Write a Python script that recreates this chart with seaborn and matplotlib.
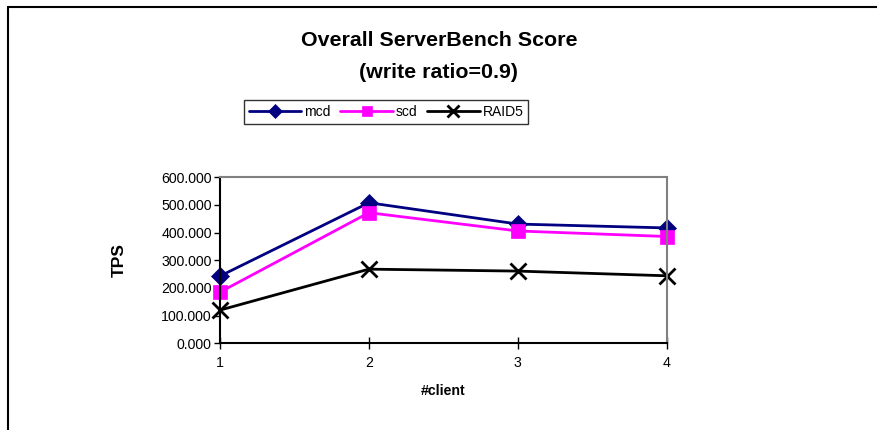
import matplotlib
matplotlib.use("Agg")
import matplotlib.pyplot as plt
import seaborn as sns
import pandas as pd
from matplotlib.lines import Line2D
from matplotlib.ticker import FuncFormatter

sns.set_theme(style="white")
plt.rcParams['font.family'] = ['Liberation Sans', 'DejaVu Sans']
plt.rcParams['text.color'] = 'black'
plt.rcParams['axes.labelcolor'] = 'black'
plt.rcParams['xtick.color'] = 'black'
plt.rcParams['ytick.color'] = 'black'

clients = [1, 2, 3, 4]
mcd = [243, 508, 431, 417]
scd = [185, 472, 406, 386]
raid5 = [120, 268, 261, 244]
series_names = ["mcd", "scd", "RAID5"]
y_ticks = [0, 100, 200, 300, 400, 500, 600]

df = pd.DataFrame({
    "client": clients * 3,
    "TPS": mcd + scd + raid5,
    "series": [n for n in series_names for _ in clients],
})

colors = {"mcd": "#000080", "scd": "#FF00FF", "RAID5": "#000000"}
markers = {"mcd": "D", "scd": "s", "RAID5": "x"}
msizes = {"mcd": 9, "scd": 10, "RAID5": 11}

fig = plt.figure(figsize=(8.78, 4.30), dpi=100)
ax = fig.add_axes([220/878, (430-343.3)/430, (666.7-220)/878, (343.3-177.3)/430])

for name in series_names:
    sub = df[df.series == name]
    sns.lineplot(data=sub, x="client", y="TPS", ax=ax, color=colors[name],
                 marker=markers[name], markersize=msizes[name],
                 markeredgewidth=2 if name == "RAID5" else 0.5,
                 markeredgecolor=colors[name], linewidth=2, clip_on=False,
                 legend=False)

ax.set_xlim(1, 4)
ax.set_ylim(0, 600)
ax.set_xticks(clients)
ax.set_yticks(y_ticks)
ax.yaxis.set_major_formatter(FuncFormatter(lambda v, p: f"{v:.3f}"))
ax.tick_params(axis='y', direction='out', length=4, width=1, color='black',
               labelsize=10.2, pad=2, left=True, labelcolor='black')
ax.tick_params(axis='x', direction='inout', length=8, width=1, color='black',
               labelsize=10.2, pad=5, bottom=True, labelcolor='black')
for s in ["left", "bottom"]:
    ax.spines[s].set_color("black")
    ax.spines[s].set_linewidth(1.5)
for s in ["top", "right"]:
    ax.spines[s].set_color("#808080")
    ax.spines[s].set_linewidth(1.5)
ax.set_xlabel("#client", fontsize=10.2, fontweight="bold", color="black")
ax.set_ylabel("TPS", fontsize=12.5, fontweight="bold", color="black")
ax.xaxis.set_label_coords(0.5, -0.245)
ax.yaxis.set_label_coords(-0.209, 0.5)
ax.grid(False)

fig.text(439/878, 1 - 41/430, "Overall ServerBench Score", ha="center", va="center",
         fontsize=15.4, fontweight="bold", color="black")
fig.text(439/878, 1 - 72/430, "(write ratio=0.9)", ha="center", va="center",
         fontsize=15.4, fontweight="bold", color="black")

handles = [Line2D([], [], color=colors[n], marker=markers[n],
                  markersize=msizes[n] * 0.75, linewidth=2,
                  markeredgewidth=2 if n == "RAID5" else 0.5,
                  markeredgecolor=colors[n]) for n in series_names]
leg = fig.legend(handles, series_names, loc="center",
                 bbox_to_anchor=(386/878, 1 - 112/430), ncol=3, fontsize=10,
                 frameon=True, fancybox=False, edgecolor="black",
                 handlelength=3.8, handletextpad=0.2, columnspacing=0.7,
                 borderpad=0.35)
leg.get_frame().set_linewidth(1)
for t in leg.get_texts():
    t.set_color("black")

# outer frame lines (top and left)
fig.add_artist(Line2D([8/878, 1], [1 - 7/430, 1 - 7/430], color="black", linewidth=1.5,
                      transform=fig.transFigure))
fig.add_artist(Line2D([8/878, 8/878], [0, 1 - 7/430], color="black", linewidth=1.5,
                      transform=fig.transFigure))

fig.savefig("out.png", dpi=100)
